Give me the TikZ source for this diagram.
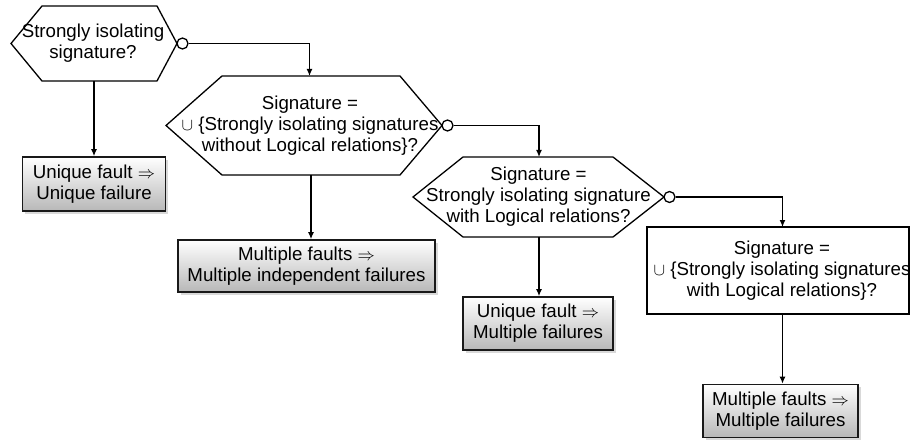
\documentclass[tikz,border=0pt]{standalone}
\usepackage{fontspec}
\setmainfont{Liberation Sans}
\usetikzlibrary{arrows.meta,shadows,calc}
\begin{document}
\begin{tikzpicture}[x=1pt,y=-1pt,
  every node/.style={font=\fontsize{18.7}{21}\selectfont, align=center, inner sep=0pt},
  hexa/.style={draw=black, line width=1.3pt, fill=white, line join=miter},
  outbox/.style={draw=black!90, line width=1.6pt, top color=white, bottom color=black!28,
    drop shadow={shadow xshift=2.5pt, shadow yshift=-2.5pt, opacity=0.3}},
  conn/.style={line width=1.3pt, -{Latex[length=7pt,width=6pt]}},
  knob/.style={circle, draw=black, line width=1.3pt, fill=white, minimum size=11pt, inner sep=0pt}
]
\useasboundingbox (0,0) rectangle (910,441);

% Decision 1
\draw[hexa] (11,43.5) -- (42,6) -- (157,6) -- (177,43.5) -- (157,81) -- (42,81) -- cycle;
\node (h1) at (93,43.5) {Strongly isolating\\signature?};
\coordinate (h1b) at (94,81);
\node[knob] (k1) at (182.5,43.5) {};

% Decision 2
\draw[hexa] (166,125.5) -- (222,76) -- (400,76) -- (442,125.5) -- (400,175) -- (222,175) -- cycle;
\node (h2) at (310,125.5) {Signature =\\$\cup$ \{Strongly isolating signatures\\without Logical relations\}?};
\coordinate (h2t) at (309.5,76);
\coordinate (h2b) at (311,175);
\node[knob] (k2) at (447.5,125.5) {};

% Decision 3
\draw[hexa] (413,197) -- (463,157) -- (613,157) -- (664,197) -- (613,237) -- (463,237) -- cycle;
\node (h3) at (538.5,197) {Signature =\\Strongly isolating signature\\with Logical relations?};
\coordinate (h3t) at (539,157);
\coordinate (h3b) at (539,237);
\node[knob] (k3) at (669.5,197) {};

% Decision 4 (rectangle)
\draw[hexa] (647,227) rectangle (909,314);
\node (h4) at (782,270.5) {Signature =\\$\cup$ \{Strongly isolating signatures\\with Logical relations\}?};
\coordinate (h4t) at (782.5,227);
\coordinate (h4b) at (782.5,314);

% Outcomes
\node[outbox, minimum width=143, minimum height=54] (b1) at (94,184) {Unique fault $\Rightarrow$\\Unique failure};
\node[outbox, minimum width=257, minimum height=52] (b2) at (306.5,266) {Multiple faults $\Rightarrow$\\Multiple independent failures};
\node[outbox, minimum width=150, minimum height=53] (b3) at (538,323.5) {Unique fault $\Rightarrow$\\Multiple failures};
\node[outbox, minimum width=155, minimum height=53] (b5) at (780.5,411) {Multiple faults $\Rightarrow$\\Multiple failures};

% Connectors
\draw[conn] (h1b) -- (h1b |- b1.north);
\draw[conn] (k1) -| (h2t);
\draw[conn] (h2b) -- (h2b |- b2.north);
\draw[conn] (k2) -| (h3t);
\draw[conn] (h3b) -- (h3b |- b3.north);
\draw[conn] (k3) -| (h4t);
\draw[conn] (h4b) -- (h4b |- b5.north);
\end{tikzpicture}
\end{document}
